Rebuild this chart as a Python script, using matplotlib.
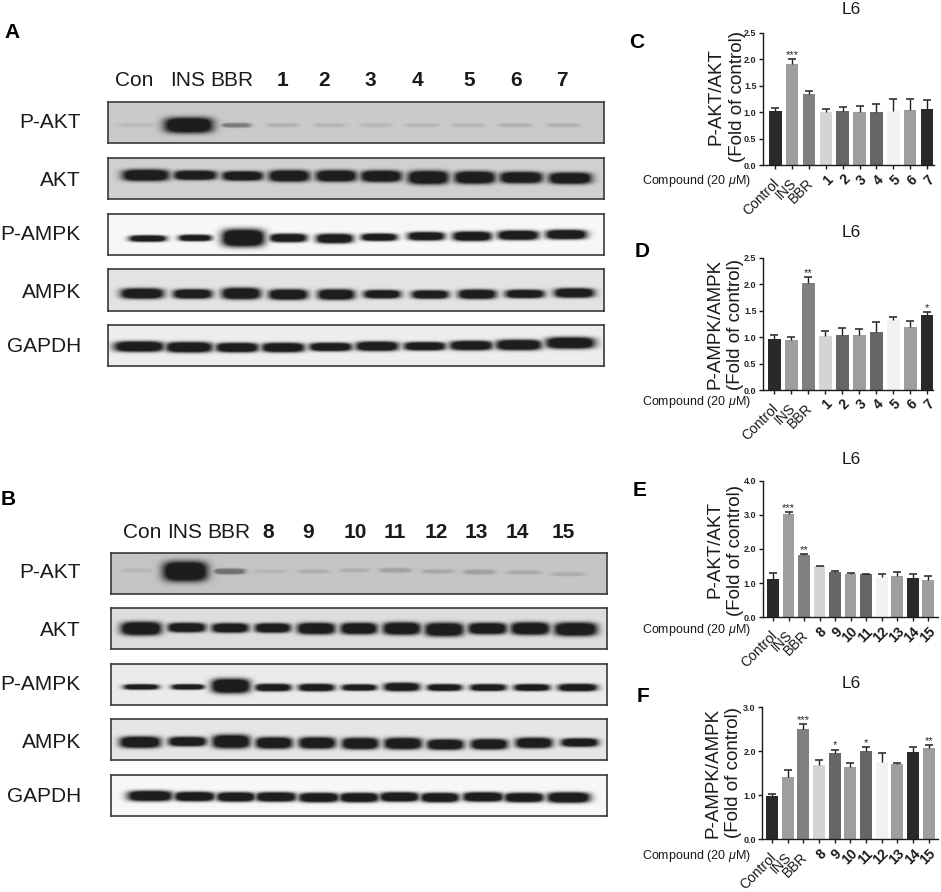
import numpy as np
import matplotlib
matplotlib.use("Agg")
import matplotlib.pyplot as plt

plt.rcParams['font.family'] = ['Liberation Sans', 'DejaVu Sans']
plt.rcParams['mathtext.fontset'] = 'custom'
plt.rcParams['mathtext.it'] = 'Liberation Sans:italic'
plt.rcParams['mathtext.rm'] = 'Liberation Sans'

W, H = 941, 892

# ---- bar chart values ----
labels_17 = ['Control', 'INS', 'BBR', '1', '2', '3', '4', '5', '6', '7']
labels_815 = ['Control', 'INS', 'BBR', '8', '9', '10', '11', '12', '13', '14', '15']

c_vals = [1.02, 1.91, 1.34, 1.01, 1.02, 1.00, 1.00, 1.03, 1.04, 1.06]
c_tops = [1.08, 2.00, 1.40, 1.06, 1.10, 1.12, 1.15, 1.25, 1.25, 1.24]
c_stars = ['', '***', '', '', '', '', '', '', '', '']

d_vals = [0.97, 0.95, 2.02, 1.02, 1.04, 1.03, 1.10, 1.32, 1.19, 1.42]
d_tops = [1.03, 1.00, 2.13, 1.12, 1.17, 1.16, 1.29, 1.38, 1.30, 1.48]
d_stars = ['', '', '**', '', '', '', '', '', '', '*']

e_vals = [1.12, 3.02, 1.81, 1.49, 1.34, 1.28, 1.26, 1.18, 1.22, 1.15, 1.08]
e_tops = [1.29, 3.09, 1.84, 1.51, 1.36, 1.31, 1.27, 1.27, 1.33, 1.28, 1.21]
e_stars = ['', '***', '**', '', '', '', '', '', '', '', '']

f_vals = [0.99, 1.41, 2.51, 1.70, 1.97, 1.64, 2.00, 1.75, 1.72, 1.98, 2.08]
f_tops = [1.03, 1.57, 2.61, 1.80, 2.04, 1.74, 2.10, 1.97, 1.74, 2.10, 2.15]
f_stars = ['', '', '***', '', '*', '', '*', '', '', '', '**']

grays_17 = ['0.16', '0.62', '0.50', '0.83', '0.40', '0.62', '0.40', '0.95', '0.62', '0.16']
grays_815 = ['0.16', '0.62', '0.50', '0.83', '0.40', '0.62', '0.40', '0.95', '0.62', '0.16', '0.62']

# ---- blot bands, one list per row: centre, half width, half thickness, y, density ----
lanes_a = ['Con', 'INS', 'BBR', '1', '2', '3', '4', '5', '6', '7']
lanes_b = ['Con', 'INS', 'BBR', '8', '9', '10', '11', '12', '13', '14', '15']

a_pakt_x = [137, 188.5, 236, 282.5, 329, 376, 422, 468, 515, 563.5]
a_pakt_w = [18, 24, 14, 15, 15, 15, 16, 15, 16, 16]
a_pakt_t = [1.2, 7, 1.5, 1.2, 1.2, 1.2, 1.2, 1.2, 1.2, 1.2]
a_pakt_y = [125, 125, 125, 125, 125, 125, 125, 125, 125, 125]
a_pakt_d = [0.09, 1, 0.45, 0.14, 0.12, 0.1, 0.12, 0.12, 0.14, 0.14]

a_akt_x = [145.6, 195, 242.5, 289, 336, 381, 428, 474.6, 521, 570]
a_akt_w = [23, 21, 20, 20, 20, 20, 20, 20, 21, 21]
a_akt_t = [5, 4, 4, 5, 5, 5, 6, 5.5, 5, 5]
a_akt_y = [175, 175, 175.7, 175.7, 175.7, 176, 177.3, 177.3, 177.3, 178]

a_pampk_x = [147.6, 195, 243, 288, 334.5, 379, 426, 472, 518, 566]
a_pampk_w = [18, 16, 21, 18, 18, 17.5, 18, 19, 20, 20]
a_pampk_t = [2.5, 2.5, 8, 3.5, 4, 3, 3.5, 4, 4, 4]
a_pampk_y = [238.3, 237.7, 237.7, 237.7, 238.3, 237, 236, 236, 235, 234.3]

a_ampk_x = [142, 192.5, 241, 288, 336, 382, 430, 477, 524.6, 574]
a_ampk_w = [21, 19, 19, 19, 18, 18, 18, 18.5, 19, 19.5]
a_ampk_t = [4.5, 4, 5, 4.5, 4.5, 3.5, 3.5, 4, 3.5, 4]
a_ampk_y = [293.3, 293.7, 293.3, 294.3, 294.3, 294, 294.3, 294, 293.7, 292.7]

a_gapdh_x = [139, 189, 237, 283, 330.5, 377, 424.6, 471, 518.6, 570]
a_gapdh_w = [24.5, 23, 21, 21, 21, 21, 20.5, 21, 22.5, 24]
a_gapdh_t = [4.5, 4.5, 4, 4, 3.5, 4, 3.5, 4, 4.5, 5]
a_gapdh_y = [346.3, 347, 347.3, 347.3, 346.7, 346, 346, 345.3, 344.7, 342.7]

b_pakt_x = [137, 185, 229.4, 270, 313.5, 354.4, 395, 437.7, 479, 524, 567.5]
b_pakt_w = [15, 22, 15, 15, 15, 14, 15, 15, 15, 16, 16]
b_pakt_t = [1.2, 9, 2, 1.2, 1.2, 1.2, 1.5, 1.2, 1.5, 1.2, 1.2]
b_pakt_y = [570.7, 571.7, 571.7, 571.7, 571.7, 570.7, 570.7, 571.7, 572.3, 572.7, 574.3]
b_pakt_d = [0.09, 1, 0.5, 0.09, 0.13, 0.13, 0.2, 0.18, 0.22, 0.16, 0.14]

b_akt_x = [141, 186.5, 230, 272.6, 316, 358.7, 401.6, 444, 487.3, 530, 575.4]
b_akt_w = [20, 18.5, 18, 17.5, 18.5, 18, 18.5, 19, 19, 19, 21]
b_akt_t = [6, 4, 4, 4, 5, 5, 5.5, 6, 5, 5.5, 6]
b_akt_y = [628.3, 627.3, 627.7, 627.7, 628.3, 628.3, 628.3, 629.3, 628.3, 628.3, 629]

b_pampk_x = [141, 187.7, 230.6, 273, 316.3, 359, 401.6, 444.4, 488, 531.7, 577.4]
b_pampk_w = [17, 16, 19, 17.5, 17.5, 17, 17.5, 17, 17.5, 17.5, 19]
b_pampk_t = [2, 2, 6.5, 3, 3, 2.5, 3.5, 2.7, 2.7, 2.7, 3]
b_pampk_y = [686.7, 686.7, 685.7, 687.3, 687.3, 687.3, 686.7, 687.3, 687.3, 687.3, 687.3]

b_ampk_x = [140, 187.3, 231, 273.8, 317, 360, 402.8, 445.2, 489, 533.7, 579.4]
b_ampk_w = [20, 18.5, 18.5, 18, 18, 18, 18.5, 18, 18, 18, 18]
b_ampk_t = [5, 4, 6, 5, 5, 5, 5, 4.5, 4.5, 4.5, 3.5]
b_ampk_y = [742, 741.3, 741.3, 742.7, 742.7, 743.3, 743.3, 744.3, 744, 742.7, 742.3]

b_gapdh_x = [150, 194.4, 235.7, 275.8, 318.7, 359, 399.2, 439.7, 483, 523.8, 568.3]
b_gapdh_w = [22, 20, 19, 20, 20, 19.5, 19.5, 19, 20, 19.5, 21]
b_gapdh_t = [4.5, 4, 4, 4, 4, 4, 4, 4, 4, 4, 4.5]
b_gapdh_y = [795.7, 796.3, 796.7, 796.7, 797.3, 797.3, 796.7, 797.3, 796.7, 797.3, 797.3]

fig = plt.figure(figsize=(W / 100, H / 100), dpi=100, facecolor='white')


def px_axes(x0, y0, x1, y1):
    return fig.add_axes([x0 / W, 1 - y1 / H, (x1 - x0) / W, (y1 - y0) / H])


def px_text(x, y, s, **kw):
    kw.setdefault('ha', 'center')
    kw.setdefault('va', 'center')
    fig.text(x / W, 1 - y / H, s, **kw)


def blot(x0, y0, x1, y1, bg, xs, ws, ts, ys, dens=None):
    if dens is None:
        dens = [1] * len(xs)
    gx, gy = np.meshgrid(np.arange(x0, x1, 0.5), np.arange(y0, y1, 0.5))
    field = np.zeros_like(gx)
    for bx, bw, bt, by, d in zip(xs, ws, ts, ys, dens):
        core = np.exp(-np.abs((gx - bx) / bw) ** 4 - np.abs((gy - by) / (bt + 0.6)) ** 3)
        field = np.maximum(field, d * np.clip(1.7 * core, 0, 1))
    img = bg * (1 - field) + 0.12 * field
    ax = px_axes(x0, y0, x1, y1)
    ax.imshow(img, cmap='gray', vmin=0, vmax=1, extent=[x0, x1, y1, y0], aspect='auto',
              interpolation='bilinear')
    ax.set_xticks([])
    ax.set_yticks([])
    for sp in ax.spines.values():
        sp.set_linewidth(1.2)
        sp.set_color('0.22')


# blots A
blot(108, 102, 604, 143, 0.79, a_pakt_x, a_pakt_w, a_pakt_t, a_pakt_y, a_pakt_d)
blot(108, 158, 604, 199, 0.82, a_akt_x, a_akt_w, a_akt_t, a_akt_y)
blot(108, 214, 604, 255, 0.97, a_pampk_x, a_pampk_w, a_pampk_t, a_pampk_y)
blot(108, 269, 604, 311, 0.89, a_ampk_x, a_ampk_w, a_ampk_t, a_ampk_y)
blot(108, 325, 604, 366, 0.93, a_gapdh_x, a_gapdh_w, a_gapdh_t, a_gapdh_y)

# blots B
blot(111, 553, 607, 594, 0.77, b_pakt_x, b_pakt_w, b_pakt_t, b_pakt_y, b_pakt_d)
blot(111, 608, 607, 649, 0.87, b_akt_x, b_akt_w, b_akt_t, b_akt_y)
blot(111, 664, 607, 705, 0.92, b_pampk_x, b_pampk_w, b_pampk_t, b_pampk_y)
blot(111, 719, 607, 760, 0.90, b_ampk_x, b_ampk_w, b_ampk_t, b_ampk_y)
blot(111, 775, 607, 816, 0.97, b_gapdh_x, b_gapdh_w, b_gapdh_t, b_gapdh_y)

# row names
row_names = ['P-AKT', 'AKT', 'P-AMPK', 'AMPK', 'GAPDH']
for name, ya, yb in zip(row_names, [122, 180, 235, 293, 346], [572, 631, 685, 743, 797]):
    px_text(81, ya, name, ha='right', fontsize=15, color='0.1')
    px_text(81, yb, name, ha='right', fontsize=15, color='0.1')

# lane names
for name, x in zip(lanes_a, [134, 188, 232, 282.5, 324, 370, 417, 469, 516, 562]):
    px_text(x, 80, name, fontsize=15, color='0.1', fontweight='bold' if name.isdigit() else 'normal')
for name, x in zip(lanes_b, [142, 184.5, 229, 268, 308, 355, 395, 436, 476, 517, 563]):
    px_text(x, 533, name, fontsize=15, color='0.1', fontweight='bold' if name.isdigit() else 'normal')

# panel letters
for letter, x, y in [('A', 12, 32), ('B', 8, 500), ('C', 637, 43), ('D', 642, 252), ('E', 640, 491), ('F', 643, 696)]:
    px_text(x, y, letter, fontsize=15, fontweight='bold', color='black')


def bars(rect, first, last, vals, tops, stars, labels, grays, ymax, ticks):
    x0, y0, x1, y1 = rect
    n = len(vals)
    step = (last - first) / (n - 1)
    ax = px_axes(x0, y0, x1, y1)
    pos = np.arange(n)
    ax.bar(pos, vals, width=0.75, color=grays, linewidth=0)
    errs = np.array(tops) - np.array(vals)
    _, caps, _ = ax.errorbar(pos, vals, yerr=[np.zeros(n), errs], fmt='none', ecolor='0.12',
                             elinewidth=1, capsize=2.6, capthick=1.1)
    caps[0].set_visible(False)
    for p, t, s in zip(pos, tops, stars):
        if s:
            ax.annotate(s, xy=(p, t), xytext=(0, -1), textcoords='offset pixels',
                        ha='center', va='bottom', fontsize=8, color='0.15')
    ax.set_xlim(-(first - x0) / step, (x1 - first) / step)
    ax.set_ylim(0, ymax)
    ax.set_yticks(ticks)
    ax.set_yticklabels(['%.1f' % t for t in ticks], fontsize=6.5, fontweight='bold', color='0.15')
    ax.set_xticks(pos)
    ax.set_xticklabels([])
    for p, lab in zip(pos, labels):
        digit = lab.isdigit()
        ax.annotate(lab, xy=(p, 0), xycoords=('data', 'axes fraction'),
                    xytext=(0, -7) if digit else (-3, -11), textcoords='offset pixels',
                    rotation=45, ha='right', va='top', rotation_mode='anchor', fontsize=10,
                    color='0.1', fontweight='bold' if digit else 'normal', annotation_clip=False)
    ax.tick_params(axis='both', length=3, width=1, pad=1.5, color='0.1')
    ax.spines['top'].set_visible(False)
    ax.spines['right'].set_visible(False)
    for side in ['left', 'bottom']:
        ax.spines[side].set_linewidth(1)
        ax.spines[side].set_color('0.1')
    ax.patch.set_alpha(0)


ticks_c = [0.0, 0.5, 1.0, 1.5, 2.0, 2.5]
bars((762.7, 32.7, 933.7, 165.3), 775.3, 927, c_vals, c_tops, c_stars, labels_17, grays_17, 2.5, ticks_c)
bars((762.7, 257.7, 933.3, 390), 774.3, 927.3, d_vals, d_tops, d_stars, labels_17, grays_17, 2.5, ticks_c)
bars((762.7, 480.7, 938, 617.3), 773, 928.3, e_vals, e_tops, e_stars, labels_815, grays_815, 4.0, [0.0, 1.0, 2.0, 3.0, 4.0])
bars((762, 707.3, 938, 839.3), 772, 928.7, f_vals, f_tops, f_stars, labels_815, grays_815, 3.0, [0.0, 1.0, 2.0, 3.0])

# side text for each bar panel
for yl, xl, xf, yc, yt, yk in [('P-AKT/AKT', 716, 737, 97, 9, 181), ('P-AMPK/AMPK', 715, 735, 324, 233, 402),
                               ('P-AKT/AKT', 715, 735, 550, 459, 630), ('P-AMPK/AMPK', 713, 733, 773, 683, 856)]:
    px_text(xl, yc, yl, rotation=90, fontsize=13.5, color='0.1')
    px_text(xf, yc, '(Fold of control)', rotation=90, fontsize=13.5, color='0.1')
    px_text(851, yt, 'L6', fontsize=12.5, color='0.1')
    px_text(696, yk, r'Compound (20 $\mu$M)', fontsize=9, color='0.1')

fig.savefig('out.png', dpi=100)
